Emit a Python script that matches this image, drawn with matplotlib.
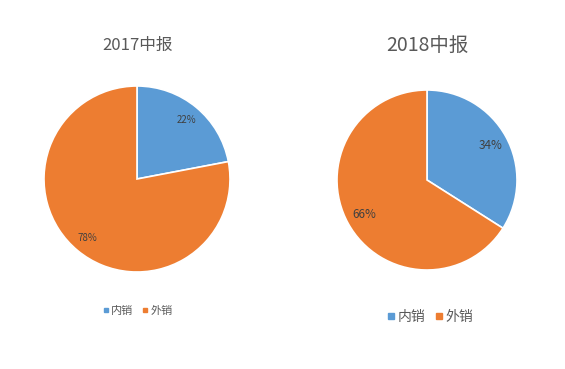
import matplotlib
matplotlib.use("Agg")
import matplotlib.pyplot as plt
from matplotlib.lines import Line2D

plt.rcParams['font.family'] = ['Noto Sans CJK SC', 'DejaVu Sans']

categories = ["内销", "外销"]
share_2017 = [22, 78]
share_2018 = [34, 66]
titles = ["2017中报", "2018中报"]
colors = ["#5B9BD5", "#ED7D31"]

W, H = 565, 369
fig = plt.figure(figsize=(W / 100, H / 100), dpi=100)


def px_axes(x0, y0, x1, y1):
    # pixel box (top-left origin) -> figure fraction
    return fig.add_axes([x0 / W, 1 - y1 / H, (x1 - x0) / W, (y1 - y0) / H])


def draw_pie(ax, values, pct_size, pct_dist):
    ax.pie(values, colors=colors, startangle=90, counterclock=False,
           autopct="%d%%", pctdistance=pct_dist, radius=1,
           wedgeprops=dict(edgecolor="white", linewidth=1.2),
           textprops=dict(fontsize=pct_size, color="#404040"))
    ax.set_xlim(-1, 1)
    ax.set_ylim(-1, 1)
    ax.set_aspect("equal")
    ax.axis("off")


ax1 = px_axes(44, 86, 230, 272)
draw_pie(ax1, share_2017, 7, 0.83)
ax2 = px_axes(337, 90, 517, 270)
draw_pie(ax2, share_2018, 8.5, 0.8)

fig.text(138 / W, 1 - 45 / H, titles[0], ha="center", va="center",
         fontsize=12, color="#595959")
fig.text(427 / W, 1 - 45 / H, titles[1], ha="center", va="center",
         fontsize=14, color="#595959")


def make_legend(cx, cy, msize, fsize, gap):
    handles = [Line2D([], [], marker="s", linestyle="none", color=c,
                      markersize=msize) for c in colors]
    fig.legend(handles, categories, loc="center",
               bbox_to_anchor=(cx / W, 1 - cy / H), ncol=2, frameon=False,
               fontsize=fsize, handlelength=0.4, handletextpad=0.25,
               columnspacing=gap, labelcolor="#595959")


make_legend(138, 311, 3, 8, 0.9)
make_legend(431, 317, 4, 10, 0.8)

fig.savefig("out.png", dpi=100, facecolor="white")
